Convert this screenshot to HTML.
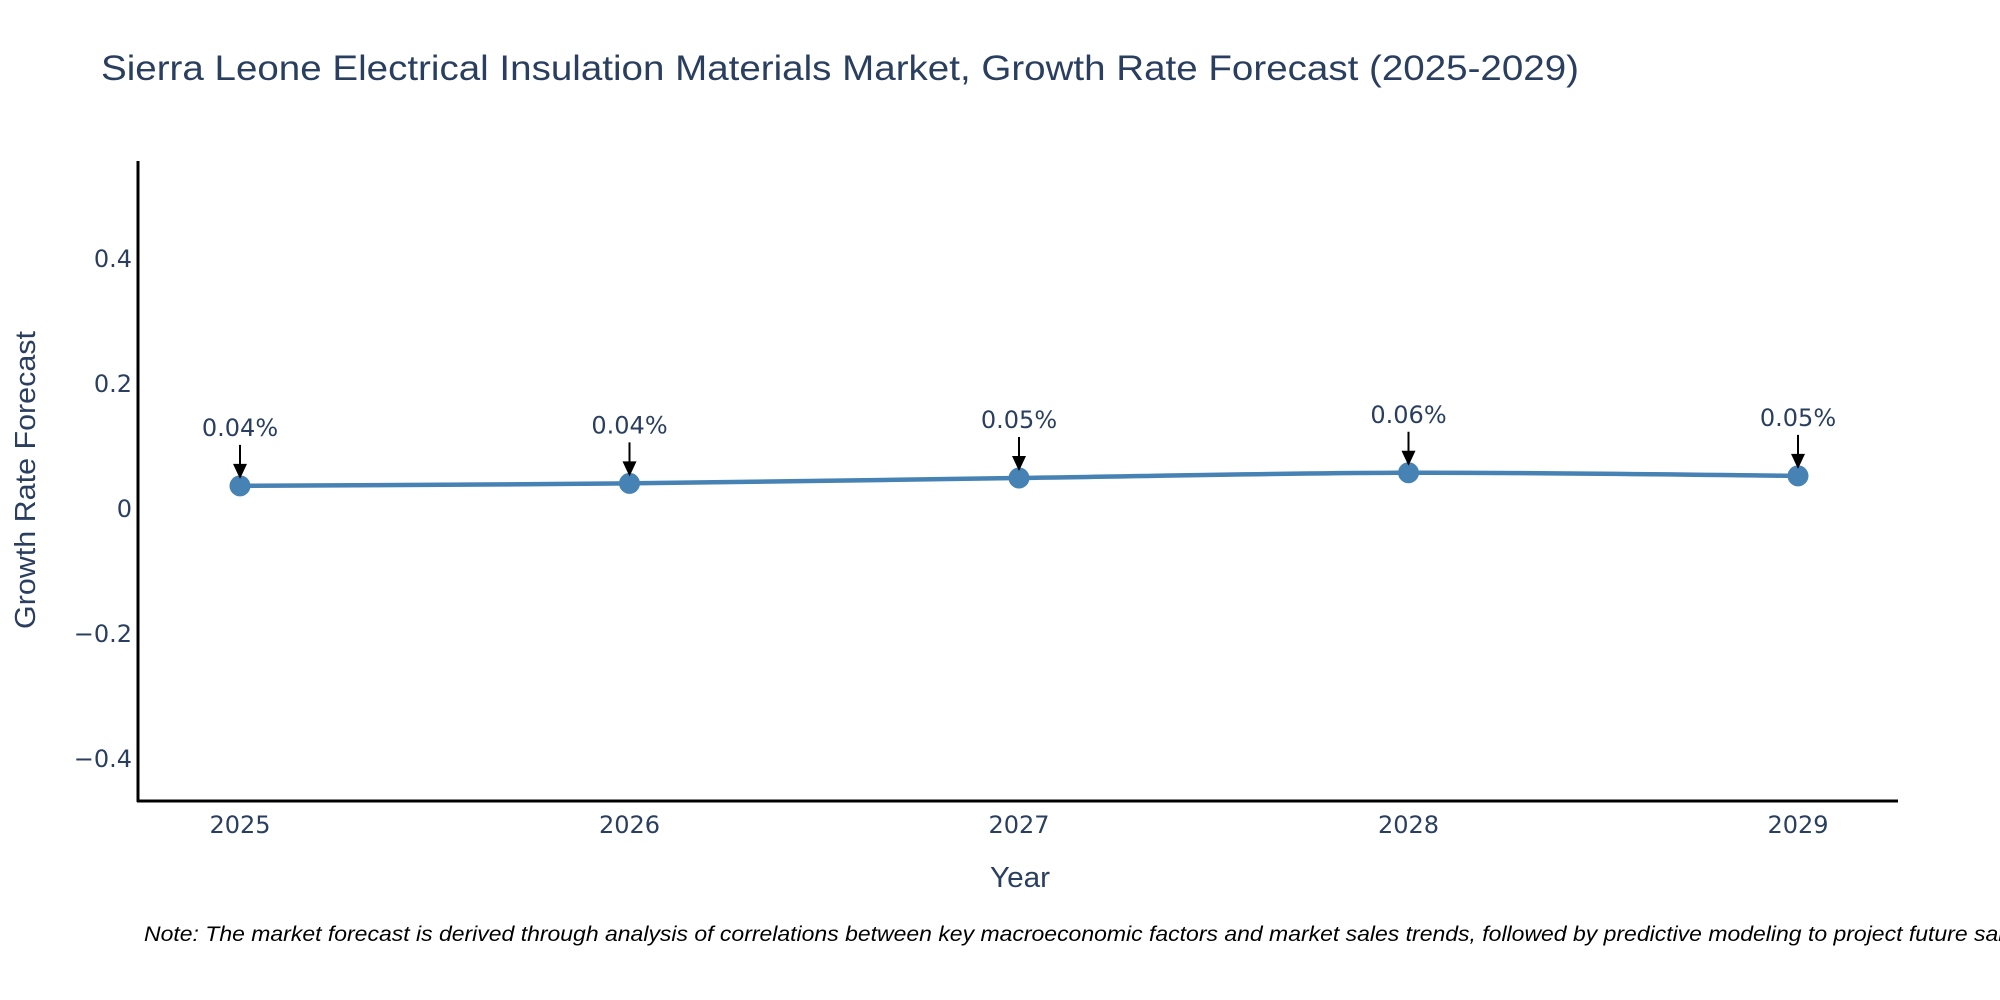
<!DOCTYPE html>
<html><head><meta charset="utf-8"><style>
html,body{margin:0;padding:0;background:#fff;}
svg{display:block;font-family:"Liberation Sans",sans-serif;}
</style></head><body>
<svg id="chart" width="2000" height="1000" viewBox="0 0 2000 1000">
<rect width="2000" height="1000" fill="#fff"/>
<text x="101" y="80" font-size="35" fill="#2a3f5f" textLength="1478" lengthAdjust="spacingAndGlyphs">Sierra Leone Electrical Insulation Materials Market, Growth Rate Forecast (2025-2029)</text>
<g id="yticks"></g>
<g id="xticks"></g>
<line x1="138" y1="161" x2="138" y2="802" stroke="#000" stroke-width="3"/>
<line x1="137" y1="801" x2="1898" y2="801" stroke="#000" stroke-width="3"/>
<text x="1020" y="887" font-size="29" fill="#2a3f5f" text-anchor="middle" textLength="60" lengthAdjust="spacingAndGlyphs">Year</text>
<text transform="translate(35,480) rotate(-90)" font-size="29" fill="#2a3f5f" text-anchor="middle" textLength="298" lengthAdjust="spacingAndGlyphs">Growth Rate Forecast</text>
<g id="series"></g>
<g id="annots"></g>
<text x="144" y="941" font-size="21" font-style="italic" fill="#000" textLength="1890" lengthAdjust="spacingAndGlyphs">Note: The market forecast is derived through analysis of correlations between key macroeconomic factors and market sales trends, followed by predictive modeling to project future sales.</text>
</svg>
<script>
const years = ["2025","2026","2027","2028","2029"];
const growth = [0.037, 0.041, 0.0496, 0.058, 0.053];
const pointLabels = ["0.04%","0.04%","0.05%","0.06%","0.05%"];
const yTickValues = [0.4, 0.2, 0, -0.2, -0.4];
const yTickLabels = ["0.4","0.2","0","\u22120.2","\u22120.4"];

const NS = "http://www.w3.org/2000/svg";
const X0 = 240, XSTEP = 389.5, Y0 = 509, YPER = 625;
function xScale(i){ return X0 + i*XSTEP; }
function yScale(v){ return Y0 - v*YPER; }
function mk(tag, attrs, parent){
  const e = document.createElementNS(NS, tag);
  for (const k in attrs) e.setAttribute(k, attrs[k]);
  parent.appendChild(e); return e;
}
const FT = '"DejaVu Sans", "Liberation Sans", sans-serif';
const yt = document.getElementById('yticks');
yTickValues.forEach((v,i)=>{
  const t = mk('text', {x:132, y:yScale(v)+8, 'font-size':24, fill:'#2a3f5f', 'text-anchor':'end', 'font-family':FT}, yt);
  
  
  t.textContent = yTickLabels[i];
});
const xt = document.getElementById('xticks');
years.forEach((y,i)=>{
  const t = mk('text', {x:xScale(i), y:833, 'font-size':24, fill:'#2a3f5f', 'text-anchor':'middle', 'font-family':FT}, xt);
  
  
  t.textContent = y;
});
const pts = growth.map((v,i)=>[xScale(i), yScale(v)]);
let d = `M${pts[0][0]},${pts[0][1]}`;
for (let i=0;i<pts.length-1;i++){
  const p0 = pts[Math.max(0,i-1)], p1 = pts[i], p2 = pts[i+1], p3 = pts[Math.min(pts.length-1,i+2)];
  const c1 = [p1[0]+(p2[0]-p0[0])/6, p1[1]+(p2[1]-p0[1])/6];
  const c2 = [p2[0]-(p3[0]-p1[0])/6, p2[1]-(p3[1]-p1[1])/6];
  d += ` C${c1[0]},${c1[1]} ${c2[0]},${c2[1]} ${p2[0]},${p2[1]}`;
}
const s = document.getElementById('series');
const line = mk('path', {d:d, fill:'none', stroke:'#4682b4', 'stroke-width':4.5}, s);


pts.forEach((p,i)=>{
  const c = mk('circle', {cx:p[0], cy:p[1], r:10.5, fill:'#4682b4'}, s);
  
  
});
const an = document.getElementById('annots');
pts.forEach((p,i)=>{
  const g = mk('g', {}, an);
  
  
  mk('line', {x1:p[0], y1:p[1]-41, x2:p[0], y2:p[1]-20, stroke:'#000', 'stroke-width':2}, g);
  mk('polygon', {points:`${p[0]-7},${p[1]-22} ${p[0]+7},${p[1]-22} ${p[0]},${p[1]-7}`, fill:'#000'}, g);
  const t = mk('text', {x:p[0], y:p[1]-50, 'font-size':24, fill:'#2a3f5f', 'text-anchor':'middle', 'font-family':FT}, g);
  t.textContent = pointLabels[i];
});
</script>
</body></html>
